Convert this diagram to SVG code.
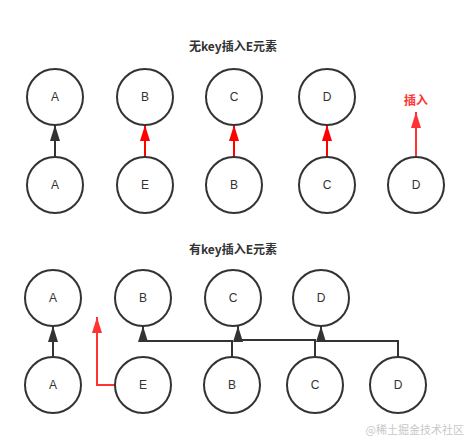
<svg xmlns="http://www.w3.org/2000/svg" width="469" height="439" viewBox="0 0 469 439">
<style>
.n circle{fill:#fff;stroke:#333;stroke-width:2}
.n text{font-family:"Liberation Sans","Noto Sans CJK SC",sans-serif;font-size:12px;fill:#333;text-anchor:middle;dominant-baseline:central}
.t{font-family:"Noto Sans CJK SC","Liberation Sans",sans-serif;font-size:12px;font-weight:bold;fill:#333;text-anchor:middle}
.k{fill:none;stroke:#333;stroke-width:2}
.r{fill:none;stroke:#ff0000;stroke-width:2}
.r2{fill:none;stroke:#ff3333;stroke-width:2}
</style>
<defs>
<marker id="ak" markerUnits="userSpaceOnUse" markerWidth="16" markerHeight="10" refX="16" refY="5" orient="auto"><path d="M0,0 L16,5 L0,10 z" fill="#333"/></marker>
<marker id="ar" markerUnits="userSpaceOnUse" markerWidth="16" markerHeight="10" refX="16" refY="5" orient="auto"><path d="M0,0 L16,5 L0,10 z" fill="#ff0000"/></marker>
<marker id="ar2" markerUnits="userSpaceOnUse" markerWidth="16" markerHeight="10" refX="16" refY="5" orient="auto"><path d="M0,0 L16,5 L0,10 z" fill="#ff3333"/></marker>
</defs>
<rect width="469" height="439" fill="#fff"/>
<text class="t" x="233" y="51">无key插入E元素</text>
<text class="t" x="233" y="254">有key插入E元素</text>
<text x="416" y="105" font-family="Noto Sans CJK SC,sans-serif" font-size="12" font-weight="bold" fill="#ff3333" text-anchor="middle">插入</text>
<g id="connectors">
<path class="k" d="M55,157 V125" marker-end="url(#ak)"/>
<path class="r" d="M145,157 V125" marker-end="url(#ar)"/>
<path class="r" d="M234,157 V125" marker-end="url(#ar)"/>
<path class="r" d="M327,157 V125" marker-end="url(#ar)"/>
<path class="r2" d="M416,157 V112" marker-end="url(#ar2)"/>
<path class="k" d="M53,357 V326" marker-end="url(#ak)"/>
<path class="r2" d="M115,385 H97 V317" marker-end="url(#ar2)"/>
<path class="k" d="M232,357 V341 H143 V326" marker-end="url(#ak)"/>
<path class="k" d="M315,357 V340 H238 V326" marker-end="url(#ak)"/>
<path class="k" d="M398,357 V341 H321 V326" marker-end="url(#ak)"/>
</g>
<g id="t1A" class="n"><circle cx="55" cy="97" r="28"/><text x="55" y="97">A</text></g>
<g id="t1B" class="n"><circle cx="145" cy="97" r="28"/><text x="145" y="97">B</text></g>
<g id="t1C" class="n"><circle cx="234" cy="97" r="28"/><text x="234" y="97">C</text></g>
<g id="t1D" class="n"><circle cx="327" cy="97" r="28"/><text x="327" y="97">D</text></g>
<g id="b1A" class="n"><circle cx="55" cy="185" r="28"/><text x="55" y="185">A</text></g>
<g id="b1E" class="n"><circle cx="145" cy="185" r="28"/><text x="145" y="185">E</text></g>
<g id="b1B" class="n"><circle cx="234" cy="185" r="28"/><text x="234" y="185">B</text></g>
<g id="b1C" class="n"><circle cx="327" cy="185" r="28"/><text x="327" y="185">C</text></g>
<g id="b1D" class="n"><circle cx="416" cy="185" r="28"/><text x="416" y="185">D</text></g>
<g id="t2A" class="n"><circle cx="53" cy="298" r="28"/><text x="53" y="298">A</text></g>
<g id="t2B" class="n"><circle cx="143" cy="298" r="28"/><text x="143" y="298">B</text></g>
<g id="t2C" class="n"><circle cx="233" cy="298" r="28"/><text x="233" y="298">C</text></g>
<g id="t2D" class="n"><circle cx="321" cy="298" r="28"/><text x="321" y="298">D</text></g>
<g id="b2A" class="n"><circle cx="53" cy="385" r="28"/><text x="53" y="385">A</text></g>
<g id="b2E" class="n"><circle cx="143" cy="385" r="28"/><text x="143" y="385">E</text></g>
<g id="b2B" class="n"><circle cx="232" cy="385" r="28"/><text x="232" y="385">B</text></g>
<g id="b2C" class="n"><circle cx="315" cy="385" r="28"/><text x="315" y="385">C</text></g>
<g id="b2D" class="n"><circle cx="398" cy="385" r="28"/><text x="398" y="385">D</text></g>
<text x="464" y="434" font-family="Noto Sans CJK SC,sans-serif" font-size="11" fill="#c8c8c8" text-anchor="end">@稀土掘金技术社区</text>
</svg>
